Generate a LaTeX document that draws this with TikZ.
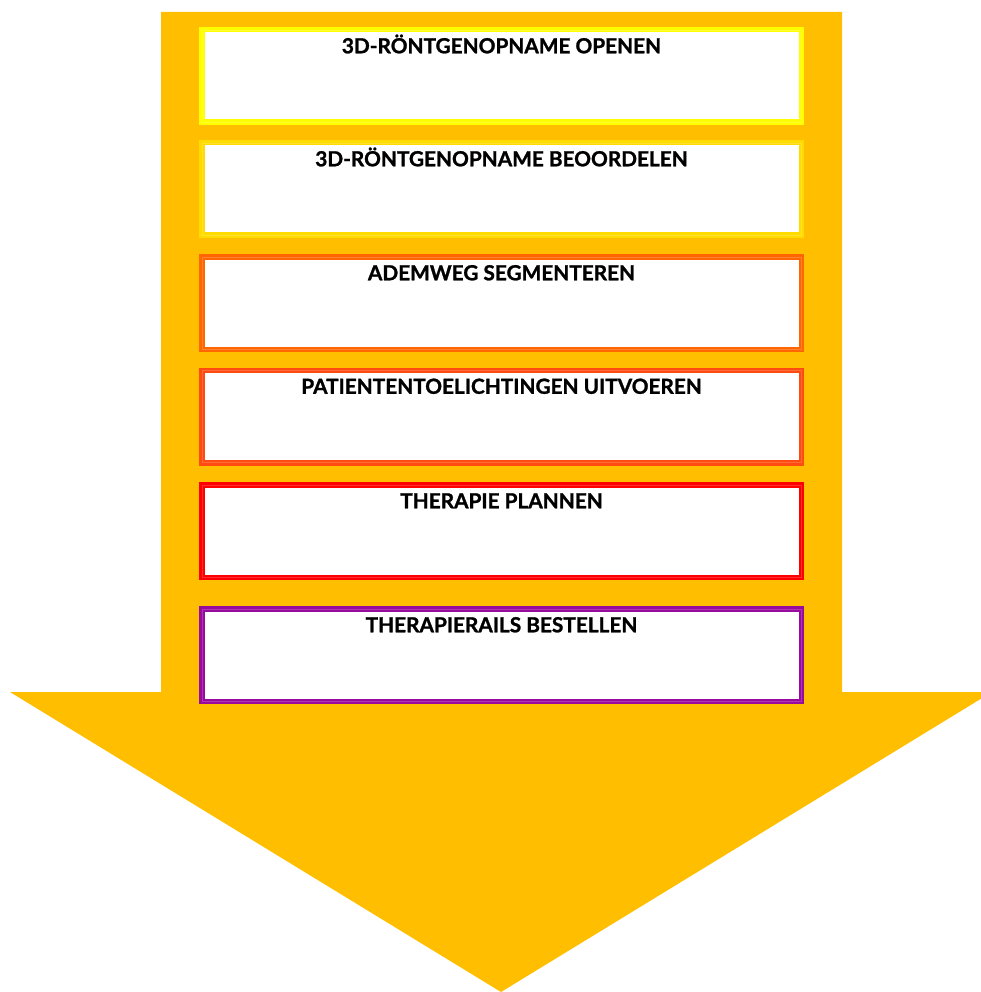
\documentclass[tikz,border=0pt]{standalone}
\usepackage{fontspec}
\setmainfont{Lato}[BoldFeatures={FakeBold=1.2}]
\definecolor{arrowc}{HTML}{FFBF00}
\definecolor{cA}{HTML}{FFFF00}
\definecolor{cB}{HTML}{FFDB00}
\definecolor{cC}{HTML}{FF6600}
\definecolor{cD}{HTML}{FF4A10}
\definecolor{cE}{HTML}{FF0000}
\definecolor{cF}{HTML}{990A9E}
\begin{document}
\begin{tikzpicture}[x=1pt,y=-1pt,
  stepbox/.style={draw=#1, line width=5.5pt, fill=white, minimum width=599.5pt, minimum height=92.5pt, inner sep=0pt, rectangle},
  lab/.style={anchor=base, inner sep=0pt, font=\fontsize{20.8}{24}\selectfont\bfseries, text=black}]
\useasboundingbox (0,0) rectangle (981,992);
\clip (0,0) rectangle (981,992);
\fill[arrowc] (161,12) -- (842,12) -- (842,692) -- (992,692) -- (501,992) -- (10,692) -- (161,692) -- cycle;
\foreach \n/\c/\yy/\t in {1/cA/76/{3D-RÖNTGENOPNAME OPENEN},
                          2/cB/189/{3D-RÖNTGENOPNAME BEOORDELEN},
                          3/cC/303/{ADEMWEG SEGMENTEREN},
                          4/cD/416.5/{PATIENTENTOELICHTINGEN UITVOEREN},
                          5/cE/531/{THERAPIE PLANNEN},
                          6/cF/655/{THERAPIERAILS BESTELLEN}}{
  \node[stepbox=\c] (b\n) at (501.5,\yy) {};
  \draw[line width=0.7pt, \c!82!white] ([shift={(3,3)}]b\n.north west) rectangle ([shift={(-3,-3)}]b\n.south east);
  \node[lab] (t\n) at ([shift={(0,26.3)}]b\n.north) {\t};
}
\end{tikzpicture}
\end{document}
